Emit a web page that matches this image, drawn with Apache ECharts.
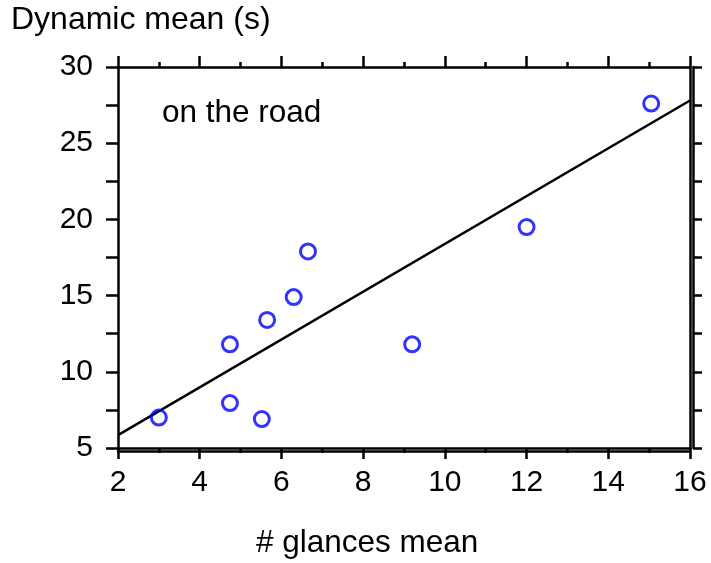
<!DOCTYPE html>
<html>
<head>
<meta charset="utf-8">
<script src="https://cdn.jsdelivr.net/npm/echarts@6/dist/echarts.min.js"></script>
<style>
  html, body { margin: 0; padding: 0; background: #fff; }
  #chart { width: 711px; height: 563px; }
</style>
</head>
<body>
<div id="chart"></div>
<script>
// Glance count vs. dynamic mean, on-the-road condition
const glancesMean = [3.0, 4.74, 4.74, 5.52, 5.65, 6.3, 6.65, 9.2, 12.0, 15.05];
const dynamicMean = [7.0, 11.8, 7.95, 6.9, 13.4, 14.9, 17.9, 11.8, 19.5, 27.6];
// fitted trend line end points [x, y]
const fitX = [2, 16];
const fitY = [5.85, 27.8];

const xTicks = { min: 2, max: 16, interval: 2 };
const yTicks = { min: 5, max: 30, interval: 5 };

const FONT = '"Liberation Sans", Arial, Helvetica, sans-serif';
const FS = 30;
const FS_TEXT = 31.5;

const points = glancesMean.map((x, i) => [x, dynamicMean[i]]);
const fitLine = fitX.map((x, i) => [x, fitY[i]]);

const lineStyle = { color: '#000', width: 2.5 };

const chart = echarts.init(document.getElementById('chart'), null, { renderer: 'canvas' });
chart.setOption({
  animation: false,
  backgroundColor: '#fff',
  grid: { left: 118, top: 67, right: 21, bottom: 115, containLabel: false },
  xAxis: [
    {
      type: 'value', position: 'bottom', min: xTicks.min, max: xTicks.max, interval: xTicks.interval,
      axisLine: { show: true, onZero: false, lineStyle },
      axisTick: { show: true, inside: false, length: 11, lineStyle },
      minorTick: { show: true, splitNumber: 2, length: 5, lineStyle },
      axisLabel: { show: true, margin: 20, fontSize: FS, color: '#000', fontFamily: FONT },
      splitLine: { show: false }
    },
    {
      type: 'value', position: 'bottom', offset: 3, min: xTicks.min, max: xTicks.max, interval: xTicks.interval,
      axisLine: { show: true, onZero: false, lineStyle },
      axisTick: { show: false }, axisLabel: { show: false }, splitLine: { show: false }
    },
    {
      type: 'value', position: 'top', min: xTicks.min, max: xTicks.max, interval: xTicks.interval,
      axisLine: { show: true, onZero: false, lineStyle },
      axisTick: { show: true, inside: false, length: 11, lineStyle },
      minorTick: { show: true, splitNumber: 2, length: 5, lineStyle },
      axisLabel: { show: false }, splitLine: { show: false }
    }
  ],
  yAxis: [
    {
      type: 'value', position: 'left', min: yTicks.min, max: yTicks.max, interval: yTicks.interval,
      axisLine: { show: true, onZero: false, lineStyle },
      axisTick: { show: true, inside: false, length: 12, lineStyle },
      minorTick: { show: true, splitNumber: 2, length: 12, lineStyle },
      axisLabel: { show: true, margin: 25, fontSize: FS, color: '#000', fontFamily: FONT },
      splitLine: { show: false }
    },
    {
      type: 'value', position: 'right', min: yTicks.min, max: yTicks.max, interval: yTicks.interval,
      axisLine: { show: true, onZero: false, lineStyle },
      axisTick: { show: false }, axisLabel: { show: false }, splitLine: { show: false }
    },
    {
      type: 'value', position: 'right', offset: 3, min: yTicks.min, max: yTicks.max, interval: yTicks.interval,
      axisLine: { show: true, onZero: false, lineStyle },
      axisTick: { show: true, inside: false, length: 9, lineStyle },
      minorTick: { show: true, splitNumber: 2, length: 9, lineStyle },
      axisLabel: { show: false }, splitLine: { show: false }
    }
  ],
  graphic: [
    { type: 'text', left: 11, top: 4, style: { text: 'Dynamic mean (s)', font: '32px ' + FONT, fill: '#000' } },
    { type: 'text', left: 162, top: 97, style: { text: 'on the road', font: FS_TEXT + 'px ' + FONT, fill: '#000' } },
    { type: 'text', left: 256, top: 527, style: { text: '# glances mean', font: FS_TEXT + 'px ' + FONT, fill: '#000' } }
  ],
  series: [
    {
      type: 'line', data: fitLine, xAxisIndex: 0, yAxisIndex: 0,
      showSymbol: false, symbol: 'none', lineStyle: { color: '#000', width: 2.5 }, z: 2
    },
    {
      type: 'scatter', data: points, xAxisIndex: 0, yAxisIndex: 0,
      symbol: 'circle', symbolSize: 15,
      itemStyle: { color: 'rgba(255,255,255,0)', borderColor: '#0000ff', borderWidth: 3 }, z: 3
    }
  ]
});
</script>
</body>
</html>
